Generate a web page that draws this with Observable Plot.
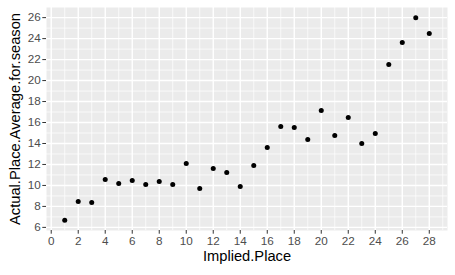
<!DOCTYPE html>
<html>
<head>
<meta charset="utf-8">
<script src="https://cdn.jsdelivr.net/npm/d3@7"></script>
<script src="https://cdn.jsdelivr.net/npm/@observablehq/plot@0.6"></script>
<style>
  html, body { margin: 0; padding: 0; background: #fff; }
  #chart svg { display: block; }
</style>
</head>
<body>
<div id="chart"></div>
<script>
const impliedPlace = [1,2,3,4,5,6,7,8,9,10,11,12,13,14,15,16,17,18,19,20,21,22,23,24,25,26,27,28];
const actualAvg = [6.67,8.48,8.38,10.57,10.19,10.48,10.1,10.38,10.1,12.1,9.71,11.62,11.24,9.9,11.9,13.62,15.62,15.52,14.38,17.14,14.76,16.48,14.0,14.95,21.52,23.62,26.0,24.48];
const xTicks = [0,2,4,6,8,10,12,14,16,18,20,22,24,26,28];
const xMinor = [1,3,5,7,9,11,13,15,17,19,21,23,25,27,29];
const yTicks = [6,8,10,12,14,16,18,20,22,24,26];
const yMinor = [7,9,11,13,15,17,19,21,23,25];
const xTitle = "Implied.Place";
const yTitle = "Actual.Place.Average.for.season";

const data = impliedPlace.map((x, i) => ({x, y: actualAvg[i]}));

const xExt = d3.extent(impliedPlace), yExt = d3.extent(actualAvg);
const xPad = (xExt[1] - xExt[0]) * 0.05, yPad = (yExt[1] - yExt[0]) * 0.05;

const font = "'Liberation Sans', Arial, sans-serif";

const chart = Plot.plot({
  width: 455,
  height: 275,
  marginLeft: 46,
  marginTop: 7,
  marginRight: 8,
  marginBottom: 45,
  style: {fontFamily: font, background: "#fff", overflow: "visible"},
  x: {domain: [xExt[0] - xPad, xExt[1] + xPad]},
  y: {domain: [yExt[0] - yPad, yExt[1] + yPad]},
  marks: [
    Plot.frame({fill: "#EBEBEB", stroke: null}),
    Plot.ruleX(xMinor, {stroke: "#fff", strokeWidth: 0.7}),
    Plot.ruleY(yMinor, {stroke: "#fff", strokeWidth: 0.7}),
    Plot.ruleX(xTicks, {stroke: "#fff", strokeWidth: 1.4}),
    Plot.ruleY(yTicks, {stroke: "#fff", strokeWidth: 1.4}),
    Plot.dot(data, {x: "x", y: "y", r: 2.5, fill: "#000", stroke: null}),
    Plot.axisX({ticks: xTicks, tickSize: 3.7, tickPadding: 2, fontSize: 11.7, color: "#4D4D4D", stroke: "#333", strokeWidth: 1, label: null}),
    Plot.axisY({ticks: yTicks, tickSize: 3.7, tickPadding: 2, fontSize: 11.7, color: "#4D4D4D", stroke: "#333", strokeWidth: 1, label: null}),
    Plot.text([xTitle], {frameAnchor: "bottom", dy: 30, text: d => d, fontSize: 14.7, fill: "#000", textAnchor: "middle"}),
    Plot.text([yTitle], {frameAnchor: "left", dx: -31, rotate: -90, text: d => d, fontSize: 14.7, fill: "#000", textAnchor: "middle"})
  ]
});
document.getElementById("chart").appendChild(chart);
</script>
</body>
</html>
